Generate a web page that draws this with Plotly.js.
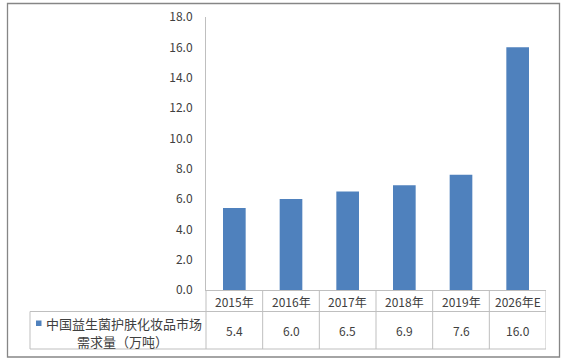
<!DOCTYPE html>
<html>
<head>
<meta charset="utf-8">
<script src="https://cdn.plot.ly/plotly-3.0.1.min.js"></script>
<style>html,body{margin:0;padding:0;background:#fff;}</style>
</head>
<body>
<div id="chart" style="width:580px;height:360px;"></div>
<script>
const categories = ["2015年", "2016年", "2017年", "2018年", "2019年", "2026年E"];
const values = [5.4, 6.0, 6.5, 6.9, 7.6, 16.0];
const seriesName = "中国益生菌护肤化妆品市场";
const seriesName2 = "需求量（万吨）";
const yTicks = [0, 2, 4, 6, 8, 10, 12, 14, 16, 18];

const W = 580, H = 360;
const L = 206, R = 546, T = 17, B = 290;
const pw = R - L, ph = B - T;
const px = p => (p - L) / pw;
const py = p => (B - p) / ph;

const FONT = '"Noto Sans CJK SC", "Noto Sans", sans-serif';
const TXT = '#404040';
const GRID = '#bfbfbf';
const BLUE = '#4f81bd';

const shapes = [];
function line(x0, y0, x1, y1, color, w) {
  shapes.push({type: 'line', xref: 'paper', yref: 'paper',
    x0: px(x0), y0: py(y0), x1: px(x1), y1: py(y1),
    line: {color: color, width: w || 1}, layer: 'above'});
}
const rowH = 311.5, rowB = 349, tabL = 30;
line(tabL, rowH, R, rowH, GRID);
line(tabL, rowB, R, rowB, GRID);
line(tabL, rowH, tabL, rowB, GRID);
line(L, B, L, rowB, GRID);
for (let i = 0; i < categories.length; i++) {
  shapes.push({type: 'line', xref: 'x', yref: 'paper',
    x0: i + 0.5, x1: i + 0.5, y0: py(B), y1: py(rowB),
    line: {color: GRID, width: 1}, layer: 'above'});
}
shapes.push({type: 'rect', xref: 'paper', yref: 'paper',
  x0: px(36), x1: px(41.5), y0: py(320.5), y1: py(326),
  fillcolor: BLUE, line: {width: 0}});
shapes.push({type: 'rect', xref: 'paper', yref: 'paper',
  x0: px(7.5), x1: px(559.5), y0: py(3.5), y1: py(357),
  line: {color: '#868686', width: 1.3}, fillcolor: 'rgba(0,0,0,0)'});

const annotations = [];
categories.forEach((c, i) => {
  annotations.push({x: c, xref: 'x', y: py(301), yref: 'paper',
    text: c, showarrow: false, xanchor: 'center', yanchor: 'middle',
    font: {family: FONT, size: 12, color: TXT}});
  annotations.push({x: c, xref: 'x', y: py(330.5), yref: 'paper',
    text: values[i].toFixed(1), showarrow: false, xanchor: 'center', yanchor: 'middle',
    font: {family: FONT, size: 12, color: TXT}});
});
annotations.push({x: px(124), xref: 'paper', y: py(323), yref: 'paper',
  text: seriesName, showarrow: false, xanchor: 'center', yanchor: 'middle',
  font: {family: FONT, size: 13, color: TXT}});
annotations.push({x: px(122.5), xref: 'paper', y: py(341), yref: 'paper',
  text: seriesName2, showarrow: false, xanchor: 'center', yanchor: 'middle',
  font: {family: FONT, size: 13, color: TXT}});

const trace = {
  type: 'bar', x: categories, y: values, name: seriesName + seriesName2,
  marker: {color: BLUE}, hoverinfo: 'x+y'
};

const layout = {
  width: W, height: H,
  margin: {l: L, r: W - R, t: T, b: H - B, pad: 0},
  paper_bgcolor: '#ffffff', plot_bgcolor: '#ffffff',
  showlegend: false, bargap: 0.6,
  font: {family: FONT, size: 12, color: TXT},
  xaxis: {type: 'category', showticklabels: false, ticks: '', showgrid: false,
    zeroline: false, showline: true, linecolor: GRID, linewidth: 1,
    range: [-0.5, categories.length - 0.5], fixedrange: true},
  yaxis: {range: [0, 18], tickvals: yTicks, ticktext: yTicks.map(v => v.toFixed(1)),
    showgrid: false, zeroline: false, showline: true, linecolor: GRID, linewidth: 1,
    ticks: '', ticklabelstandoff: 10,
    tickfont: {family: FONT, size: 12, color: TXT}, fixedrange: true},
  shapes: shapes, annotations: annotations
};

Plotly.newPlot('chart', [trace], layout, {displayModeBar: false, staticPlot: true});
</script>
</body>
</html>
